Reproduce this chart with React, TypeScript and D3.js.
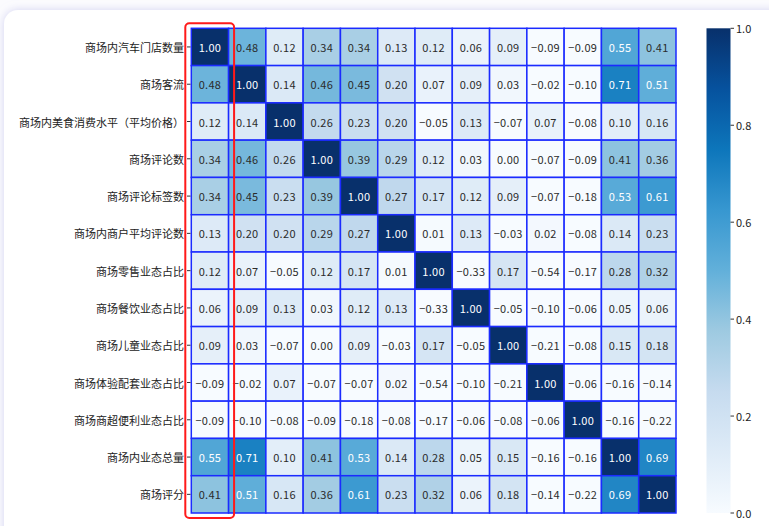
import React from 'react';
import * as d3 from 'd3';

const labels = [
  '商场内汽车门店数量',
  '商场客流',
  '商场内美食消费水平（平均价格）',
  '商场评论数',
  '商场评论标签数',
  '商场内商户平均评论数',
  '商场零售业态占比',
  '商场餐饮业态占比',
  '商场儿童业态占比',
  '商场体验配套业态占比',
  '商场商超便利业态占比',
  '商场内业态总量',
  '商场评分',
];

// correlation matrix, rows follow labels
const corr = [
  [1.0, 0.48, 0.12, 0.34, 0.34, 0.13, 0.12, 0.06, 0.09, -0.09, -0.09, 0.55, 0.41],
  [0.48, 1.0, 0.14, 0.46, 0.45, 0.2, 0.07, 0.09, 0.03, -0.02, -0.1, 0.71, 0.51],
  [0.12, 0.14, 1.0, 0.26, 0.23, 0.2, -0.05, 0.13, -0.07, 0.07, -0.08, 0.1, 0.16],
  [0.34, 0.46, 0.26, 1.0, 0.39, 0.29, 0.12, 0.03, 0.0, -0.07, -0.09, 0.41, 0.36],
  [0.34, 0.45, 0.23, 0.39, 1.0, 0.27, 0.17, 0.12, 0.09, -0.07, -0.18, 0.53, 0.61],
  [0.13, 0.2, 0.2, 0.29, 0.27, 1.0, 0.01, 0.13, -0.03, 0.02, -0.08, 0.14, 0.23],
  [0.12, 0.07, -0.05, 0.12, 0.17, 0.01, 1.0, -0.33, 0.17, -0.54, -0.17, 0.28, 0.32],
  [0.06, 0.09, 0.13, 0.03, 0.12, 0.13, -0.33, 1.0, -0.05, -0.1, -0.06, 0.05, 0.06],
  [0.09, 0.03, -0.07, 0.0, 0.09, -0.03, 0.17, -0.05, 1.0, -0.21, -0.08, 0.15, 0.18],
  [-0.09, -0.02, 0.07, -0.07, -0.07, 0.02, -0.54, -0.1, -0.21, 1.0, -0.06, -0.16, -0.14],
  [-0.09, -0.1, -0.08, -0.09, -0.18, -0.08, -0.17, -0.06, -0.08, -0.06, 1.0, -0.16, -0.22],
  [0.55, 0.71, 0.1, 0.41, 0.53, 0.14, 0.28, 0.05, 0.15, -0.16, -0.16, 1.0, 0.69],
  [0.41, 0.51, 0.16, 0.36, 0.61, 0.23, 0.32, 0.06, 0.18, -0.14, -0.22, 0.69, 1.0],
];

const cbarTicks = [0, 0.2, 0.4, 0.6, 0.8, 1.0];

// matplotlib-like "Blues", linear between brewer stops
const blues = ['#f7fbff', '#deebf7', '#c6dbef', '#9ecae1', '#62b0da', '#3797d0', '#0d76bb', '#06529e', '#08306b'];

const W = 769;
const H = 526;
const FONT = '"Noto Sans CJK SC", "Noto Sans", sans-serif';

export default function App() {
  const idx = labels.map((_, i) => i);
  const x = d3.scaleBand<number>().domain(idx).range([191.3, 676]);
  const y = d3.scaleBand<number>().domain(idx).range([28.3, 513]);
  const color = d3
    .scaleLinear<string>()
    .domain(blues.map((_, i) => i / (blues.length - 1)))
    .range(blues)
    .interpolate(d3.interpolateRgb)
    .clamp(true);
  const fmt = d3.format('.2f');

  const cb = { x: 706.5, w: 24 };
  const cy = d3.scaleLinear().domain([0, 1]).range([513, 28.3]);
  const stops = d3.range(0, 1.0001, 0.125);

  const bw = x.bandwidth();
  const bh = y.bandwidth();

  return (
    <svg
      width={W}
      height={H}
      style={{ position: 'absolute', left: 0, top: 0, display: 'block' }}
      fontFamily={FONT}
    >
      <defs>
        <filter id="shadow" x="-5%" y="-5%" width="110%" height="110%">
          <feDropShadow dx="0" dy="0" stdDeviation="4" floodColor="#c9c9ee" floodOpacity="0.8" />
        </filter>
        <linearGradient id="cbar" x1="0" y1="1" x2="0" y2="0">
          {stops.map((s) => (
            <stop key={s} offset={s} stopColor={color(s)} />
          ))}
        </linearGradient>
      </defs>

      <rect x={0} y={0} width={W} height={H} fill="#fbfbfe" />
      <rect x={4} y={10} width={820} height={600} rx={14} fill="#ffffff" filter="url(#shadow)" />

      {/* cells */}
      {corr.map((row, r) =>
        row.map((v, c) => (
          <g key={`${r}-${c}`}>
            <rect
              x={x(c)}
              y={y(r)}
              width={bw}
              height={bh}
              fill={color(v)}
              stroke="#1b2bff"
              strokeWidth={1.5}
            />
            <text
              x={(x(c) as number) + bw / 2}
              y={(y(r) as number) + bh / 2}
              textAnchor="middle"
              dominantBaseline="central"
              fontSize={11}
              letterSpacing={0.3}
              fill={v > 0.5 ? '#ffffff' : '#2b2b2b'}
            >
              {fmt(v)}
            </text>
          </g>
        ))
      )}

      {/* y axis labels */}
      {labels.map((l, i) => {
        const yy = (y(i) as number) + bh / 2;
        return (
          <g key={l}>
            <line x1={187} x2={190.5} y1={yy} y2={yy} stroke="#333" strokeWidth={1} />
            <text x={184} y={yy} textAnchor="end" dominantBaseline="central" fontSize={11} fill="#222">
              {l}
            </text>
          </g>
        );
      })}

      {/* colorbar */}
      <rect x={cb.x} y={cy(1)} width={cb.w} height={cy(0) - cy(1)} fill="url(#cbar)" />
      {cbarTicks.map((t) => (
        <g key={t}>
          <line x1={cb.x + cb.w} x2={cb.x + cb.w + 3.5} y1={cy(t)} y2={cy(t)} stroke="#333" strokeWidth={1} />
          <text x={cb.x + cb.w + 5.5} y={cy(t)} dominantBaseline="central" fontSize={11} fill="#222">
            {d3.format('.1f')(t)}
          </text>
        </g>
      ))}

      {/* highlight box on first column */}
      <rect
        x={(x(0) as number) - 6}
        y={(y(0) as number) - 5}
        width={bw + 11.5}
        height={y.range()[1] - y.range()[0] + 10}
        rx={4}
        fill="none"
        stroke="#ff1a1a"
        strokeWidth={2}
      />
    </svg>
  );
}
